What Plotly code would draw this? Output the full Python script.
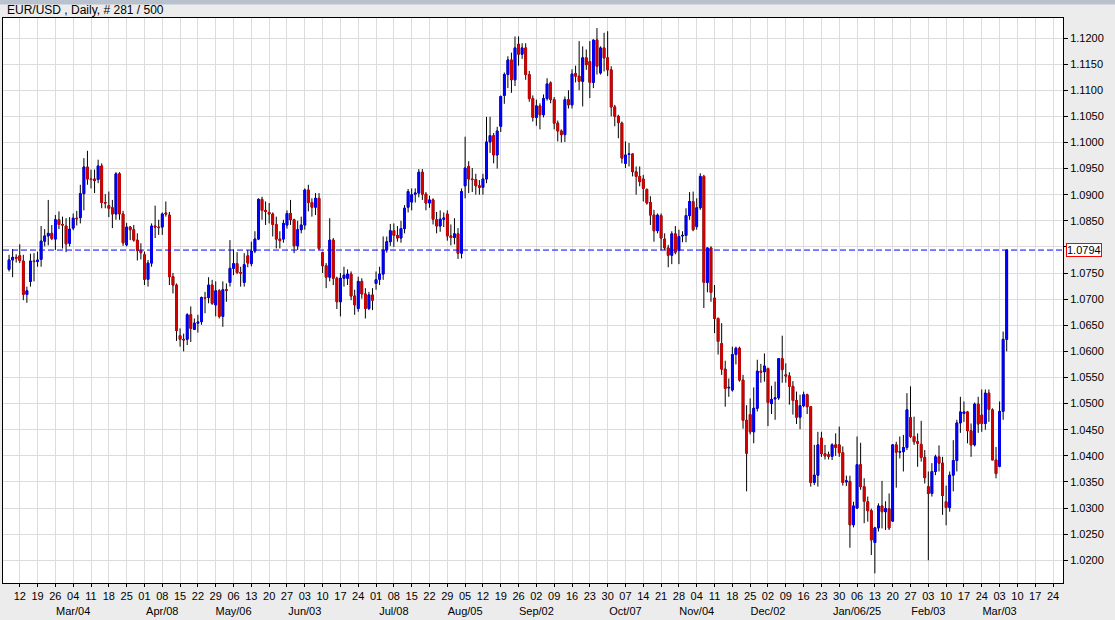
import pandas as pd
import plotly.graph_objects as go

# ---------------- data (EUR/USD daily, 2024-02-07 .. 2025-03-05) ----------------
start_date = "2024-02-07"

open_ = [
1.0757,1.0775,1.0780,1.0783,1.0773,1.0709,1.0734,1.0773,1.0772,1.0776,
1.0811,1.0821,1.0826,1.0815,1.0852,1.0843,1.0840,1.0807,1.0836,1.0855,
1.0856,1.0902,1.0953,1.0930,1.0930,1.0929,1.0955,1.0885,1.0879,1.0875,
1.0863,1.0940,1.0863,1.0804,1.0838,1.0833,1.0813,1.0793,1.0785,1.0738,
1.0769,1.0840,1.0838,1.0838,1.0865,1.0861,1.0743,1.0727,1.0630,1.0623,
1.0623,1.0670,1.0642,1.0654,1.0657,1.0703,1.0703,1.0727,1.0689,1.0716,
1.0667,1.0718,1.0732,1.0759,1.0768,1.0751,1.0732,1.0783,1.0768,1.0792,
1.0815,1.0891,1.0870,1.0866,1.0863,1.0843,1.0815,1.0815,1.0842,1.0864,
1.0852,1.0802,1.0833,1.0842,1.0909,1.0885,1.0876,1.0893,1.0789,1.0764,
1.0742,1.0813,1.0740,1.0695,1.0740,1.0740,1.0748,1.0706,1.0682,1.0734,
1.0710,1.0682,1.0708,1.0730,1.0738,1.0748,1.0794,1.0810,1.0831,1.0822,
1.0817,1.0835,1.0876,1.0886,1.0901,1.0903,1.0943,1.0901,1.0884,1.0890,
1.0852,1.0840,1.0853,1.0863,1.0821,1.0818,1.0825,1.0788,1.0917,1.0954,
1.0930,1.0929,1.0917,1.0914,1.0930,1.1001,1.1013,1.0976,1.1031,1.1090,
1.1130,1.1158,1.1120,1.1188,1.1169,1.1181,1.1130,1.1084,1.1048,1.1070,
1.1053,1.1084,1.1114,1.1082,1.1037,1.1022,1.1015,1.1082,1.1072,1.1132,
1.1127,1.1117,1.1162,1.1155,1.1115,1.1196,1.1133,1.1181,1.1162,1.1139,
1.1068,1.1050,1.1037,1.0960,1.0977,1.0978,1.0944,1.0935,1.0930,1.0910,
1.0885,1.0861,1.0831,1.0860,1.0815,1.0798,1.0784,1.0825,1.0793,1.0821,
1.0822,1.0860,1.0887,1.0839,1.0875,1.0935,1.0732,1.0798,1.0702,1.0663,
1.0615,1.0566,1.0530,1.0526,1.0594,1.0606,1.0545,1.0468,1.0479,1.0446,
1.0491,1.0562,1.0561,1.0567,1.0500,1.0509,1.0511,1.0586,1.0555,1.0553,
1.0533,1.0506,1.0474,1.0496,1.0517,1.0494,1.0349,1.0363,1.0434,1.0404,
1.0402,1.0399,1.0421,1.0421,1.0406,1.0350,1.0351,1.0268,1.0300,1.0383,
1.0341,1.0312,1.0295,1.0234,1.0262,1.0304,1.0293,1.0299,1.0275,1.0421,
1.0407,1.0408,1.0416,1.0473,1.0437,1.0427,1.0422,1.0397,1.0341,1.0328,
1.0370,1.0398,1.0386,1.0312,1.0301,1.0363,1.0391,1.0463,1.0481,1.0484,
1.0448,1.0421,1.0499,1.0478,1.0462,1.0520,1.0488,1.0392,1.0380,1.0485,
1.0623]

high_ = [
1.0785,1.0796,1.0786,1.0805,1.0785,1.0724,1.0787,1.0788,1.0791,1.0840,
1.0834,1.0890,1.0842,1.0861,1.0868,1.0858,1.0855,1.0857,1.0864,1.0869,
1.0919,1.0970,1.0984,1.0948,1.0948,1.0967,1.0960,1.0901,1.0906,1.0890,
1.0943,1.0943,1.0869,1.0846,1.0840,1.0842,1.0826,1.0807,1.0791,1.0775,
1.0845,1.0879,1.0852,1.0866,1.0887,1.0867,1.0750,1.0730,1.0644,1.0634,
1.0673,1.0686,1.0663,1.0670,1.0705,1.0714,1.0742,1.0737,1.0734,1.0719,
1.0734,1.0730,1.0813,1.0795,1.0790,1.0762,1.0788,1.0794,1.0810,1.0830,
1.0893,1.0896,1.0887,1.0884,1.0866,1.0858,1.0830,1.0852,1.0870,1.0890,
1.0854,1.0850,1.0858,1.0912,1.0919,1.0893,1.0903,1.0903,1.0791,1.0769,
1.0855,1.0817,1.0743,1.0750,1.0762,1.0757,1.0753,1.0718,1.0743,1.0740,
1.0721,1.0714,1.0721,1.0753,1.0762,1.0820,1.0820,1.0844,1.0845,1.0840,
1.0850,1.0880,1.0911,1.0912,1.0912,1.0949,1.0949,1.0905,1.0898,1.0893,
1.0867,1.0870,1.0866,1.0870,1.0843,1.0855,1.0836,1.0912,1.1011,1.0964,
1.0951,1.0940,1.0928,1.0940,1.1049,1.1049,1.1018,1.1030,1.1090,1.1134,
1.1165,1.1172,1.1203,1.1203,1.1190,1.1190,1.1137,1.1090,1.1082,1.1075,
1.1092,1.1123,1.1117,1.1087,1.1042,1.1025,1.1088,1.1100,1.1140,1.1147,
1.1194,1.1184,1.1178,1.1194,1.1197,1.1219,1.1184,1.1210,1.1213,1.1146,
1.1072,1.1053,1.1040,1.1002,1.0999,1.0979,1.0954,1.0954,1.0938,1.0912,
1.0897,1.0871,1.0864,1.0864,1.0826,1.0804,1.0830,1.0840,1.0833,1.0830,
1.0874,1.0905,1.0906,1.0893,1.0941,1.0938,1.0799,1.0801,1.0727,1.0665,
1.0654,1.0582,1.0548,1.0609,1.0609,1.0609,1.0555,1.0497,1.0510,1.0531,
1.0584,1.0576,1.0596,1.0569,1.0534,1.0542,1.0587,1.0630,1.0577,1.0560,
1.0543,1.0523,1.0517,1.0523,1.0519,1.0495,1.0421,1.0446,1.0446,1.0421,
1.0408,1.0424,1.0443,1.0456,1.0418,1.0362,1.0362,1.0312,1.0437,1.0425,
1.0357,1.0322,1.0299,1.0264,1.0309,1.0352,1.0313,1.0328,1.0422,1.0427,
1.0437,1.0440,1.0520,1.0533,1.0475,1.0443,1.0467,1.0411,1.0370,1.0386,
1.0402,1.0420,1.0398,1.0343,1.0370,1.0430,1.0469,1.0513,1.0504,1.0486,
1.0462,1.0502,1.0513,1.0527,1.0527,1.0527,1.0491,1.0417,1.0504,1.0638,
1.0795]

low_ = [
1.0753,1.0742,1.0770,1.0769,1.0698,1.0693,1.0724,1.0734,1.0762,1.0762,
1.0801,1.0803,1.0813,1.0794,1.0834,1.0797,1.0790,1.0801,1.0832,1.0841,
1.0845,1.0870,1.0919,1.0912,1.0903,1.0922,1.0874,1.0874,1.0857,1.0836,
1.0852,1.0852,1.0802,1.0801,1.0813,1.0810,1.0774,1.0776,1.0727,1.0724,
1.0762,1.0817,1.0823,1.0823,1.0858,1.0727,1.0711,1.0620,1.0609,1.0600,
1.0612,1.0618,1.0641,1.0636,1.0651,1.0673,1.0692,1.0689,1.0667,1.0663,
1.0647,1.0695,1.0724,1.0746,1.0748,1.0724,1.0724,1.0761,1.0763,1.0788,
1.0813,1.0852,1.0842,1.0845,1.0820,1.0797,1.0797,1.0808,1.0835,1.0842,
1.0788,1.0794,1.0826,1.0833,1.0868,1.0858,1.0861,1.0794,1.0750,1.0721,
1.0734,1.0727,1.0681,1.0667,1.0724,1.0727,1.0698,1.0670,1.0676,1.0701,
1.0663,1.0679,1.0679,1.0718,1.0727,1.0737,1.0789,1.0802,1.0800,1.0810,
1.0808,1.0826,1.0866,1.0870,1.0885,1.0895,1.0890,1.0870,1.0875,1.0843,
1.0826,1.0829,1.0838,1.0812,1.0803,1.0805,1.0777,1.0778,1.0893,1.0903,
1.0905,1.0900,1.0900,1.0900,1.0922,1.0980,1.0960,1.0950,1.1020,1.1074,
1.1104,1.1095,1.1108,1.1147,1.1160,1.1120,1.1078,1.1040,1.1032,1.1025,
1.1048,1.1080,1.1075,1.1025,1.1002,1.1000,1.1001,1.1065,1.1065,1.1115,
1.1100,1.1069,1.1139,1.1085,1.1104,1.1130,1.1130,1.1136,1.1127,1.1050,
1.1031,1.1008,1.0960,1.0951,1.0954,1.0935,1.0900,1.0916,1.0887,1.0881,
1.0842,1.0810,1.0826,1.0794,1.0794,1.0761,1.0767,1.0786,1.0767,1.0809,
1.0809,1.0852,1.0830,1.0833,1.0871,1.0683,1.0713,1.0695,1.0635,1.0594,
1.0555,1.0494,1.0513,1.0523,1.0575,1.0542,1.0452,1.0332,1.0441,1.0424,
1.0485,1.0540,1.0542,1.0457,1.0480,1.0469,1.0507,1.0540,1.0540,1.0498,
1.0479,1.0461,1.0451,1.0493,1.0480,1.0341,1.0344,1.0341,1.0398,1.0393,
1.0393,1.0392,1.0400,1.0398,1.0343,1.0342,1.0224,1.0263,1.0298,1.0335,
1.0271,1.0274,1.0210,1.0175,1.0255,1.0261,1.0258,1.0258,1.0274,1.0339,
1.0395,1.0370,1.0411,1.0434,1.0421,1.0379,1.0389,1.0347,1.0200,1.0322,
1.0363,1.0370,1.0287,1.0267,1.0293,1.0332,1.0370,1.0444,1.0465,1.0424,
1.0398,1.0418,1.0444,1.0446,1.0450,1.0465,1.0392,1.0357,1.0378,1.0469,
1.0600]

close_ = [
1.0775,1.0780,1.0778,1.0774,1.0709,1.0716,1.0773,1.0772,1.0775,1.0811,
1.0821,1.0826,1.0816,1.0852,1.0843,1.0842,1.0806,1.0834,1.0855,1.0854,
1.0902,1.0953,1.0930,1.0929,1.0927,1.0955,1.0885,1.0884,1.0874,1.0863,
1.0940,1.0863,1.0808,1.0838,1.0833,1.0813,1.0793,1.0789,1.0738,1.0769,
1.0840,1.0838,1.0837,1.0863,1.0863,1.0743,1.0727,1.0640,1.0623,1.0622,
1.0670,1.0644,1.0654,1.0656,1.0703,1.0702,1.0727,1.0692,1.0716,1.0667,
1.0718,1.0717,1.0759,1.0768,1.0751,1.0750,1.0766,1.0769,1.0792,1.0815,
1.0891,1.0870,1.0868,1.0863,1.0843,1.0815,1.0812,1.0845,1.0864,1.0852,
1.0802,1.0833,1.0842,1.0909,1.0885,1.0876,1.0893,1.0797,1.0764,1.0742,
1.0813,1.0740,1.0695,1.0740,1.0746,1.0748,1.0706,1.0689,1.0734,1.0710,
1.0682,1.0708,1.0698,1.0737,1.0748,1.0794,1.0810,1.0831,1.0822,1.0817,
1.0835,1.0874,1.0906,1.0900,1.0903,1.0943,1.0901,1.0884,1.0890,1.0853,
1.0840,1.0853,1.0855,1.0821,1.0818,1.0825,1.0788,1.0906,1.0951,1.0930,
1.0929,1.0917,1.0914,1.0930,1.1001,1.1013,1.0976,1.1022,1.1088,1.1130,
1.1158,1.1120,1.1181,1.1169,1.1181,1.1130,1.1084,1.1048,1.1070,1.1053,
1.1084,1.1112,1.1082,1.1037,1.1022,1.1015,1.1082,1.1072,1.1131,1.1127,
1.1117,1.1162,1.1149,1.1115,1.1196,1.1146,1.1181,1.1162,1.1139,1.1068,
1.1050,1.1038,1.0970,1.0976,1.0978,1.0944,1.0935,1.0925,1.0912,1.0884,
1.0861,1.0831,1.0861,1.0817,1.0798,1.0784,1.0825,1.0790,1.0820,1.0822,
1.0860,1.0887,1.0833,1.0875,1.0935,1.0732,1.0798,1.0713,1.0663,1.0619,
1.0566,1.0529,1.0531,1.0594,1.0606,1.0545,1.0468,1.0405,1.0446,1.0491,
1.0562,1.0560,1.0572,1.0502,1.0508,1.0511,1.0586,1.0565,1.0553,1.0533,
1.0506,1.0474,1.0496,1.0517,1.0494,1.0349,1.0363,1.0421,1.0404,1.0400,
1.0399,1.0421,1.0416,1.0406,1.0349,1.0352,1.0268,1.0304,1.0383,1.0341,
1.0313,1.0295,1.0239,1.0262,1.0304,1.0293,1.0299,1.0262,1.0421,1.0407,
1.0408,1.0416,1.0488,1.0437,1.0427,1.0424,1.0397,1.0358,1.0328,1.0370,
1.0398,1.0386,1.0324,1.0301,1.0363,1.0391,1.0463,1.0484,1.0484,1.0448,
1.0421,1.0499,1.0461,1.0462,1.0520,1.0489,1.0392,1.0366,1.0485,1.0623,
1.0794]

last_price = 1.0794
title_text = "EUR/USD , Daily, # 281 / 500"

# price-axis labels (1.0800 is hidden behind the last-price box in the reference)
y_tick_values = [1.0200, 1.0250, 1.0300, 1.0350, 1.0400, 1.0450, 1.0500, 1.0550,
                 1.0600, 1.0650, 1.0700, 1.0750, 1.0800, 1.0850, 1.0900, 1.0950,
                 1.1000, 1.1050, 1.1100, 1.1150, 1.1200]
y_tick_labels = ["1.0200", "1.0250", "1.0300", "1.0350", "1.0400", "1.0450", "1.0500",
                 "1.0550", "1.0600", "1.0650", "1.0700", "1.0750", "", "1.0850",
                 "1.0900", "1.0950", "1.1000", "1.1050", "1.1100", "1.1150", "1.1200"]

# month captions shown under certain weekly ticks
month_marks = {
    "2024-03-04": "Mar/04", "2024-04-08": "Apr/08", "2024-05-06": "May/06",
    "2024-06-03": "Jun/03", "2024-07-08": "Jul/08", "2024-08-05": "Aug/05",
    "2024-09-02": "Sep/02", "2024-10-07": "Oct/07", "2024-11-04": "Nov/04",
    "2024-12-02": "Dec/02", "2025-01-06": "Jan/06/25", "2025-02-03": "Feb/03",
    "2025-03-03": "Mar/03",
}

n = len(close_)
assert len(open_) == n and len(high_) == n and len(low_) == n

# trading-day axis (every weekday), extended into the empty future area
all_days = pd.bdate_range(start_date, periods=n + 16)
x_idx = list(range(n))

tickvals, ticktext = [], []
for i, d in enumerate(all_days):
    if d.weekday() == 0:
        key = d.strftime("%Y-%m-%d")
        lbl = d.strftime("%d")
        if key in month_marks:
            lbl = lbl + "<br>" + month_marks[key]
        tickvals.append(i)
        ticktext.append(lbl)

body_hi = [max(o, c) for o, c in zip(open_, close_)]
body_lo = [min(o, c) for o, c in zip(open_, close_)]

FONT = "Liberation Sans, Arial, sans-serif"

fig = go.Figure()

# wicks (black)
fig.add_trace(go.Candlestick(
    x=x_idx, open=open_, high=high_, low=low_, close=close_,
    increasing=dict(line=dict(color="#000000", width=1), fillcolor="#000000"),
    decreasing=dict(line=dict(color="#000000", width=1), fillcolor="#000000"),
    whiskerwidth=0, showlegend=False, hoverinfo="skip",
))
# coloured bodies on top
fig.add_trace(go.Candlestick(
    x=x_idx, open=open_, high=body_hi, low=body_lo, close=close_,
    increasing=dict(line=dict(color="#0000ff", width=1), fillcolor="#0000ff"),
    decreasing=dict(line=dict(color="#d40000", width=1), fillcolor="#d40000"),
    whiskerwidth=0, showlegend=False,
))

fig.add_shape(type="line", xref="paper", x0=0, x1=1, yref="y",
              y0=last_price, y1=last_price,
              line=dict(color="#0000ff", width=1, dash="6px,3px"))

# thin window strip at the very top of the picture
fig.add_shape(type="rect", xref="paper", yref="paper", layer="above",
              x0=-0.01, x1=1.06, y0=1 + 13.5 / 565, y1=1 + 18.5 / 565,
              line=dict(width=0), fillcolor="#b9c1cf")

fig.add_annotation(xref="paper", x=1, xanchor="left", xshift=3,
                   yref="y", y=last_price, text=f"{last_price:.4f}",
                   showarrow=False, bgcolor="#ffffff", bordercolor="#ff0000",
                   borderwidth=1, borderpad=0,
                   font=dict(family=FONT, size=11, color="#000000"))

fig.add_annotation(xref="paper", yref="paper", x=0, y=1, xanchor="left",
                   yanchor="bottom", xshift=2, yshift=-1, text=title_text,
                   showarrow=False,
                   font=dict(family=FONT, size=12, color="#000000"))

fig.update_layout(
    width=1115, height=620,
    margin=dict(l=3, r=52, t=18, b=37, autoexpand=False),
    paper_bgcolor="#ececec", plot_bgcolor="#ffffff",
    font=dict(family=FONT, size=11, color="#000000"),
    showlegend=False,
    xaxis=dict(
        range=[-1.7, 295.8], rangeslider=dict(visible=False),
        tickmode="array", tickvals=tickvals, ticktext=ticktext, tickangle=0,
        automargin=False,
        showgrid=True, gridcolor="#dcdcdc", gridwidth=1,
        showline=True, linecolor="#000000", linewidth=1, mirror=True,
        ticks="outside", ticklen=3, tickcolor="#000000",
        tickfont=dict(size=11), zeroline=False, fixedrange=True,
    ),
    yaxis=dict(
        side="right", range=[1.01565, 1.12383],
        tickmode="array", tickvals=y_tick_values, ticktext=y_tick_labels,
        automargin=False,
        showgrid=True, gridcolor="#dcdcdc", gridwidth=1,
        showline=True, linecolor="#000000", linewidth=1, mirror=True,
        ticks="outside", ticklen=4, tickcolor="#000000",
        tickfont=dict(size=11), zeroline=False,
    ),
)

fig.write_html(
    "out.html",
    config={"displayModeBar": False},
    post_script="document.body.style.margin='0px';document.body.style.overflow='hidden';",
)
